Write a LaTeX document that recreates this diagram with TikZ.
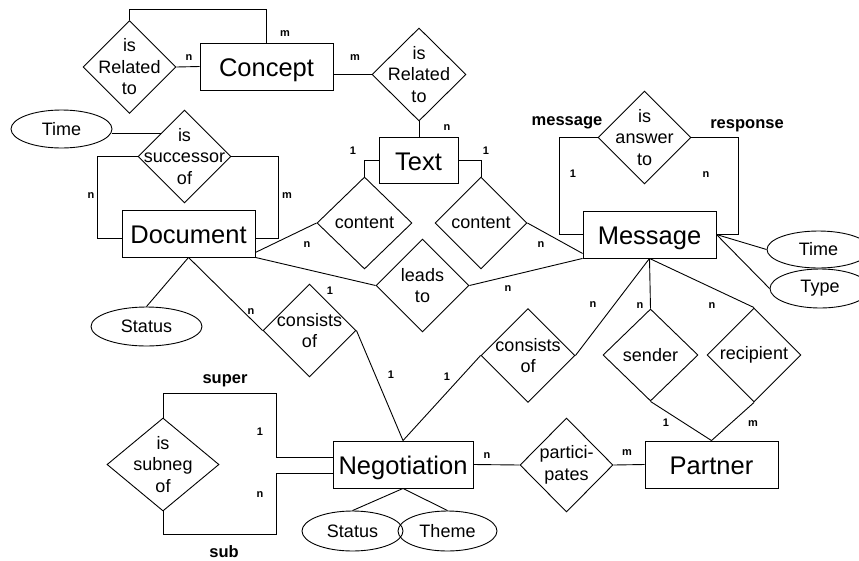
\documentclass[tikz,border=0pt]{standalone}
\usepackage{fontspec}
\setmainfont{Liberation Sans}
\usetikzlibrary{calc,shapes.geometric}

\tikzset{
	entity/.style={draw, rectangle, minimum width=133, minimum height=47, inner sep=0pt, text height=20.4pt, text depth=0pt, font=\fontsize{25.5}{30}\selectfont},
	relship/.style={draw, diamond, minimum width=93, minimum height=93, inner sep=0pt},
	reltext/.style={align=center, inner sep=0pt, font=\fontsize{18}{21.5}\selectfont},
	attrib/.style={draw, ellipse, minimum width=101, minimum height=38, inner sep=0pt, font=\fontsize{18}{21.5}\selectfont},
	card/.style={inner sep=0pt, font=\bfseries\fontsize{11}{13}\selectfont},
	role/.style={inner sep=0pt, font=\bfseries\fontsize{16.5}{20}\selectfont}
}

\begin{document}
\begin{tikzpicture}[x=1pt, y=-1pt, line width=0.9pt]
			%%%%% START %%%%%
			\useasboundingbox (0,0) rectangle (859,560);
			
			\node[entity] (concept) at (266.5,66.5) {Concept};
			\node[relship] (relL) at (129.5,67) {};
			\node[reltext] (relLt) at (relL) {is\\Related\\to};
			\draw (relL.east) -- (concept.west);
			\draw (relL.north) |- ($(concept.north)+(0,-33)$) -- (concept.north);
			\node[card] (relLn) at (189,58) {n};
			\node[card] (relLm) at (285,34) {m};
			
			\node[relship, minimum width=94] (relR) at (419,74.5) {};
			\node[reltext] (relRt) at (relR) {is\\Related\\to};
			\draw (relR.west -| concept.east) -- (relR.west);
			\node[card] (relRm) at (355,58) {m};
			
			\node[entity, minimum width=79, minimum height=46] (text) at (418.5,160) {Text};
			\draw (relR.south) -- (relR.south |- text.north);
			\node[card] (relRn) at (447,128) {n};
			
			\node[relship, minimum width=95, minimum height=92] (contL) at (364.5,223) {};
			\node[reltext] (contLt) at (contL) {content};
			\node[relship, minimum width=92, minimum height=92] (contR) at (481,223) {};
			\node[reltext] (contRt) at (contR) {content};
			\draw (text.west) -| (contL.north);
			\draw (text.east) -| (contR.north);
			\node[card] (contL1) at (353,151) {1};
			\node[card] (contR1) at (486,151) {1};
			
			\node[entity] (doc) at (188.5,233.5) {Document};
			\node[relship] (succ) at (184.5,156.5) {};
			\node[reltext] (succt) at (succ) {is\\successor\\of};
			\draw (succ.west) -- ++(-40,0) |- ($(doc.west)+(0,4.5)$);
			\draw (succ.east) -- ++(47,0) |- ($(doc.east)+(0,4.5)$);
			\node[card] (succn) at (91,196) {n};
			\node[card] (succm) at (287,196) {m};
			\node[attrib] (ltime) at (61.5,129) {Time};
			\draw (ltime.east |- succ.north west) -- (succ.north west);
			
			\node[attrib, minimum width=111, minimum height=39] (dstatus) at (146.5,326.5) {Status};
			\draw (doc.south) -- (dstatus.north);
			
			\draw ($(doc.south east)+(0,-5)$) -- (contL.west);
			\node[card] (contLn) at (307,245) {n};
			
			\node[entity] (msg) at (649.5,234.5) {Message};
			\draw (contR.east) -- ($(msg.south west)+(0,-5)$);
			\node[card] (contRn) at (541,245) {n};
			
			\node[relship] (leads) at (422.5,285.5) {};
			\node[reltext] (leadst) at (leads) {leads\\to};
			\draw (doc.south east) -- (leads.west);
			\draw (leads.east) -- (msg.south west);
			\node[card] (leadsn) at (508,289) {n};
			
			\node[relship] (answer) at (644.5,137.5) {};
			\node[reltext] (answert) at (answer) {is\\answer\\to};
			\draw (answer.west) -- ++(-38,0) |- (msg.west);
			\draw (answer.east) -- ++(47,0) |- (msg.east);
			\node[role] (rmessage) at (567,123) {message};
			\node[role] (rresponse) at (747,126) {response};
			\node[card] (answer1) at (573,174) {1};
			\node[card] (answern) at (706,175) {n};
			
			\node[attrib, minimum width=103, minimum height=37] (mtime) at (818.5,249.5) {Time};
			\node[attrib, minimum width=100, minimum height=39] (mtype) at (820,288.5) {Type};
			\draw (msg.east) -- (mtime.west);
			\draw (msg.east) -- (mtype.west);
			
			\node[entity, minimum width=140] (nego) at (403,464.5) {Negotiation};
			
			\node[relship] (consD) at (309.5,330.5) {};
			\node[reltext] (consDt) at (consD) {consists\\of};
			\draw (doc.south) -- (consD.west);
			\draw (consD.east) -- (nego.north);
			\node[card] (consDn) at (251,312) {n};
			\node[card] (consD1) at (330,291) {1};
			\node[card] (consD1b) at (391,375) {1};
			
			\node[relship, minimum width=94, minimum height=94] (consN) at (528,355.5) {};
			\node[reltext] (consNt) at (consN) {consists\\of};
			\draw (msg.south) -- (consN.east);
			\draw (consN.west) -- (nego.north);
			\node[card] (consNn) at (593,305) {n};
			\node[card] (consN1) at (447,377) {1};
			
			\node[entity] (partner) at (711.5,464.5) {Partner};
			\node[relship, minimum width=95, minimum height=92] (sender) at (650.5,355) {};
			\node[reltext] (sendert) at (sender) {sender};
			\node[relship, minimum width=94, minimum height=94] (recip) at (754,355) {};
			\node[reltext] (recipt) at (recip) {recipient};
			\draw (msg.south) -- (sender.north);
			\draw (msg.south) -- (recip.north);
			\draw (sender.south) -- (partner.north);
			\draw (recip.south) -- (partner.north);
			\node[card] (sendern) at (640,306) {n};
			\node[card] (recipn) at (712,306) {n};
			\node[card] (sender1) at (666,423) {1};
			\node[card] (recipm) at (753,424) {m};
			
			\node[relship, minimum height=94] (partic) at (566.5,465) {};
			\node[reltext] (partict) at (partic) {partici-\\pates};
			\draw (nego.east) -- (partic.west);
			\draw (partic.east) -- (partner.west);
			\node[card] (particn) at (487,456) {n};
			\node[card] (particm) at (627,453) {m};
			
			\node[relship, minimum width=112] (subneg) at (163,464.5) {};
			\node[reltext] (subnegt) at (subneg) {is\\subneg\\of};
			\draw (subneg.north) |- (276,393) |- ($(nego.west)+(0,-7.5)$);
			\draw (subneg.south) |- (276,534) |- ($(nego.west)+(0,8.5)$);
			\node[role] (rsuper) at (225,381) {super};
			\node[role] (rsub) at (224,552) {sub};
			\node[card] (subneg1) at (260,432) {1};
			\node[card] (subnegn) at (260,495) {n};
			
			\node[attrib, minimum height=40] (nstatus) at (352.5,531) {Status};
			\node[attrib, minimum width=99, minimum height=40] (ntheme) at (447.5,531) {Theme};
			\draw (nego.south) -- (nstatus.north);
			\draw (nego.south) -- (ntheme.north);
			
			%%%%% END %%%%%
\end{tikzpicture}
\end{document}
